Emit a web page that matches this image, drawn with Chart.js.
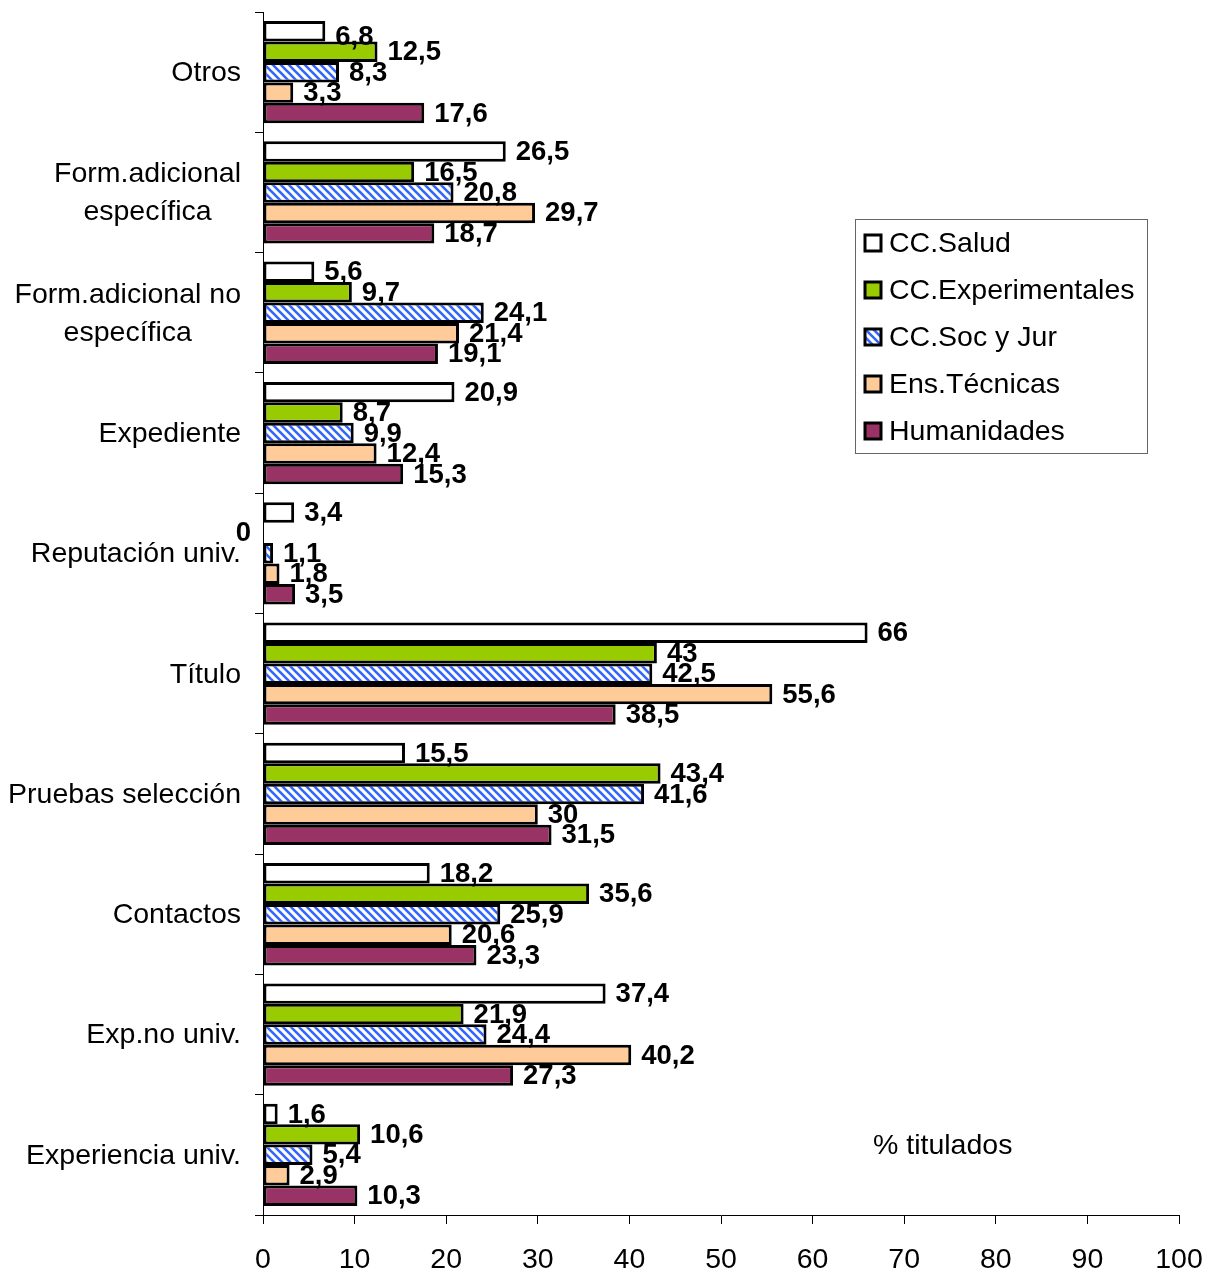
<!DOCTYPE html>
<html lang="es">
<head>
<meta charset="utf-8">
<title>Factores de contratación</title>
<script src="https://cdn.jsdelivr.net/npm/chart.js@4.4.1/dist/chart.umd.min.js"></script>
<style>
  html, body { margin: 0; padding: 0; background: #fff; }
  canvas { display: block; }
</style>
</head>
<body>
<canvas id="grafico" width="1218" height="1272"></canvas>
<script>
// categorías (de arriba a abajo)
const categorias = [
    'Otros',
    ['Form.adicional', 'específica'],
    ['Form.adicional no', 'específica'],
    'Expediente',
    'Reputación univ.',
    'Título',
    'Pruebas selección',
    'Contactos',
    'Exp.no univ.',
    'Experiencia univ.'
];

// valores por rama (% titulados)
const ccSalud          = [6.8, 26.5, 5.6, 20.9, 3.4, 66, 15.5, 18.2, 37.4, 1.6];
const ccExperimentales = [12.5, 16.5, 9.7, 8.7, 0, 43, 43.4, 35.6, 21.9, 10.6];
const ccSocJur         = [8.3, 20.8, 24.1, 9.9, 1.1, 42.5, 41.6, 25.9, 24.4, 5.4];
const ensTecnicas      = [3.3, 29.7, 21.4, 12.4, 1.8, 55.6, 30, 20.6, 40.2, 2.9];
const humanidades      = [17.6, 18.7, 19.1, 15.3, 3.5, 38.5, 31.5, 23.3, 27.3, 10.3];

const ticksX = [0, 10, 20, 30, 40, 50, 60, 70, 80, 90, 100];

const FUENTE = '"Liberation Sans", Arial, sans-serif';
Chart.defaults.font.family = FUENTE;
Chart.defaults.color = '#000';

const canvas = document.getElementById('grafico');
const ctx = canvas.getContext('2d');

// trama rayada azul para CC.Soc y Jur
function crearTrama() {
    const t = document.createElement('canvas');
    t.width = 8; t.height = 8;
    const c = t.getContext('2d');
    c.fillStyle = '#fff';
    c.fillRect(0, 0, 8, 8);
    c.strokeStyle = '#3366ff';
    c.lineWidth = 2.6;
    c.beginPath();
    c.moveTo(-2, -2); c.lineTo(10, 10);
    c.moveTo(-10, -2); c.lineTo(2, 10);
    c.moveTo(6, -2); c.lineTo(18, 10);
    c.stroke();
    return ctx.createPattern(t, 'repeat');
}
const trama = crearTrama();

// etiquetas de valor al final de cada barra
const etiquetasValor = {
    id: 'etiquetasValor',
    afterDatasetsDraw(chart) {
        const c = chart.ctx;
        c.save();
        c.font = 'bold 27.5px ' + FUENTE;
        c.fillStyle = '#000';
        c.textBaseline = 'middle';
        chart.data.datasets.forEach((ds, i) => {
            const meta = chart.getDatasetMeta(i);
            meta.data.forEach((bar, j) => {
                const v = ds.data[j];
                const txt = String(v).replace('.', ',');
                // la etiqueta no sube por encima del borde superior del gráfico
                const y = Math.max(bar.y + 1, chart.chartArea.top + 25);
                if (v === 0) {
                    c.textAlign = 'right';
                    c.fillText(txt, bar.x - 12, y);
                } else {
                    c.textAlign = 'left';
                    c.fillText(txt, bar.x + 10, y);
                }
            });
        });
        c.restore();
    }
};

// etiquetas de categoría centradas por bloque
const etiquetasCategoria = {
    id: 'etiquetasCategoria',
    afterDraw(chart) {
        const esc = chart.scales.y;
        const c = chart.ctx;
        c.save();
        c.font = '28.5px ' + FUENTE;
        c.fillStyle = '#000';
        c.textAlign = 'center';
        c.textBaseline = 'middle';
        chart.data.labels.forEach((lab, i) => {
            const lineas = Array.isArray(lab) ? lab : [lab];
            const y = esc.getPixelForTick(i);
            const anchoMax = Math.max(...lineas.map(l => c.measureText(l).width));
            const cx = esc.right - 22 - anchoMax / 2;
            lineas.forEach((l, k) => {
                c.fillText(l, cx, y + (k - (lineas.length - 1) / 2) * 38 + 1);
            });
        });
        c.restore();
    }
};

// leyenda en recuadro y texto "% titulados"
const leyenda = {
    id: 'leyenda',
    afterDraw(chart) {
        const c = chart.ctx;
        c.save();
        c.strokeStyle = '#666';
        c.lineWidth = 1;
        c.strokeRect(855.5, 219.5, 292, 234);
        c.font = '28.5px ' + FUENTE;
        c.textBaseline = 'middle';
        c.textAlign = 'left';
        chart.data.datasets.forEach((ds, i) => {
            const y = 243 + i * 47;
            c.fillStyle = ds.backgroundColor;
            c.fillRect(865, y - 8, 16, 16);
            c.lineWidth = 3;
            c.strokeStyle = '#000';
            c.strokeRect(865, y - 8, 16, 16);
            c.fillStyle = '#000';
            c.fillText(ds.label, 889, y + 1);
        });
        c.fillText('% titulados', 873, 1146);
        c.restore();
    }
};

const comunes = {
    borderColor: '#000',
    borderWidth: 3,
    borderSkipped: false,
    categoryPercentage: 0.85,
    barPercentage: 1.0
};

new Chart(ctx, {
    type: 'bar',
    data: {
        labels: categorias,
        datasets: [
            Object.assign({ label: 'CC.Salud', data: ccSalud, backgroundColor: '#ffffff' }, comunes),
            Object.assign({ label: 'CC.Experimentales', data: ccExperimentales, backgroundColor: '#99cc00' }, comunes),
            Object.assign({ label: 'CC.Soc y Jur', data: ccSocJur, backgroundColor: trama }, comunes),
            Object.assign({ label: 'Ens.Técnicas', data: ensTecnicas, backgroundColor: '#ffcc99' }, comunes),
            Object.assign({ label: 'Humanidades', data: humanidades, backgroundColor: '#993366' }, comunes)
        ]
    },
    options: {
        indexAxis: 'y',
        responsive: false,
        animation: false,
        devicePixelRatio: 1,
        layout: { padding: { left: 0, right: 39, top: 12, bottom: 0 } },
        plugins: {
            legend: { display: false },
            tooltip: { enabled: false }
        },
        scales: {
            x: {
                min: 0,
                max: 100,
                afterBuildTicks(scale) {
                    scale.ticks = ticksX.map(v => ({ value: v }));
                },
                afterFit(scale) {
                    scale.height = 57;
                    scale.paddingLeft = 0;
                    scale.paddingRight = 0;
                },
                border: { display: true, color: '#000', width: 1 },
                grid: { display: true, drawOnChartArea: false, drawTicks: true, tickLength: 9, color: '#000' },
                ticks: { font: { size: 28.5 }, color: '#000', padding: 19, maxRotation: 0 }
            },
            y: {
                afterFit(scale) { scale.width = 263; },
                border: { display: true, color: '#000', width: 1 },
                grid: { display: true, offset: true, drawOnChartArea: false, drawTicks: true, tickLength: 8, color: '#000' },
                ticks: { display: false }
            }
        }
    },
    plugins: [etiquetasValor, etiquetasCategoria, leyenda]
});
</script>
</body>
</html>
